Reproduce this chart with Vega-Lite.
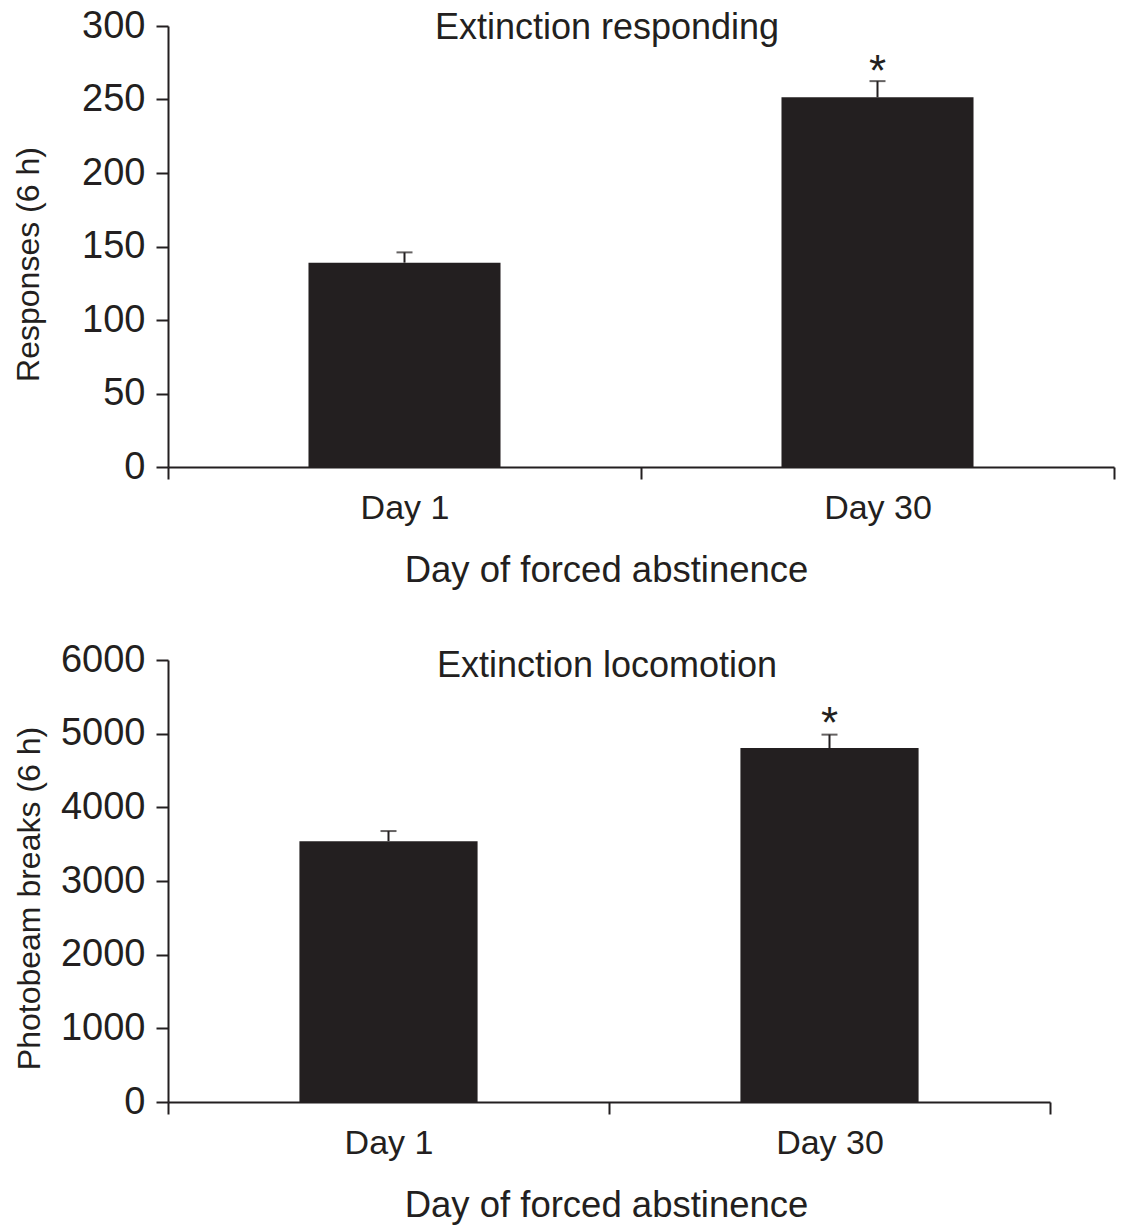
{
  "$schema": "https://vega.github.io/schema/vega-lite/v6.json",
  "padding": {"left": 12, "top": 7, "right": 4, "bottom": 2},
  "background": "white",
  "spacing": 52,
  "config": {
    "view": {"stroke": null},
    "font": "Liberation Sans",
    "title": {"fontSize": 36, "fontWeight": "normal", "color": "#231f20", "font": "Liberation Sans"},
    "axis": {
      "grid": false,
      "domainColor": "#231f20",
      "domainWidth": 2,
      "tickColor": "#231f20",
      "tickWidth": 2,
      "tickSize": 12,
      "labelColor": "#231f20",
      "titleColor": "#231f20",
      "titleFontWeight": "normal",
      "labelFont": "Liberation Sans",
      "titleFont": "Liberation Sans"
    },
    "axisX": {"labelFontSize": 34, "labelAngle": 0, "tickBand": "extent", "labelPadding": 12, "titleFontSize": 36.5, "titlePadding": 27},
    "axisY": {"labelFontSize": 38, "labelPadding": 11, "titleFontSize": 32, "format": "d", "titleY": 238}
  },
  "vconcat": [
    {
      "width": 946,
      "height": 441,
      "title": {"text": "Extinction responding", "offset": -40, "dx": -34, "anchor": "middle"},
      "data": {"values": [
        {"day": "Day 1", "mean": 139, "upper": 146, "sig": ""},
        {"day": "Day 30", "mean": 251.5, "upper": 262.5, "sig": "*"}
      ]},
      "encoding": {
        "x": {"field": "day", "type": "nominal", "sort": null,
              "scale": {"paddingInner": 0, "paddingOuter": 0},
              "axis": {"title": "Day of forced abstinence", "titleX": 438}}
      },
      "layer": [
        {"mark": {"type": "bar", "color": "#231f20", "width": {"band": 0.406}},
         "encoding": {"y": {"field": "mean", "type": "quantitative", "title": "Responses (6 h)",
           "scale": {"domain": [0, 300]},
           "axis": {"values": [0, 50, 100, 150, 200, 250, 300], "titlePadding": 36}}}},
        {"mark": {"type": "rule", "strokeWidth": 2, "color": "#231f20"},
         "encoding": {"y": {"field": "mean", "type": "quantitative", "title": "Responses (6 h)"}, "y2": {"field": "upper"}}},
        {"mark": {"type": "tick", "thickness": 2, "size": 16, "color": "#231f20"},
         "encoding": {"y": {"field": "upper", "type": "quantitative", "title": "Responses (6 h)"}}},
        {"mark": {"type": "text", "fontSize": 44, "baseline": "alphabetic", "dy": 5, "color": "#231f20"},
         "encoding": {"y": {"field": "upper", "type": "quantitative", "title": "Responses (6 h)"}, "text": {"field": "sig"}}}
      ]
    },
    {
      "width": 882,
      "height": 442,
      "title": {"text": "Extinction locomotion", "offset": -44, "dx": -2, "anchor": "middle"},
      "data": {"values": [
        {"day": "Day 1", "mean": 3541, "upper": 3678, "sig": ""},
        {"day": "Day 30", "mean": 4804, "upper": 4987, "sig": "*"}
      ]},
      "encoding": {
        "x": {"field": "day", "type": "nominal", "sort": null,
              "scale": {"paddingInner": 0, "paddingOuter": 0},
              "axis": {"title": "Day of forced abstinence", "titleX": 438}}
      },
      "layer": [
        {"mark": {"type": "bar", "color": "#231f20", "width": {"band": 0.404}},
         "encoding": {"y": {"field": "mean", "type": "quantitative", "title": "Photobeam breaks (6 h)",
           "scale": {"domain": [0, 6000]},
           "axis": {"values": [0, 1000, 2000, 3000, 4000, 5000, 6000], "titlePadding": 14}}}},
        {"mark": {"type": "rule", "strokeWidth": 2, "color": "#231f20"},
         "encoding": {"y": {"field": "mean", "type": "quantitative", "title": "Photobeam breaks (6 h)"}, "y2": {"field": "upper"}}},
        {"mark": {"type": "tick", "thickness": 2, "size": 16, "color": "#231f20"},
         "encoding": {"y": {"field": "upper", "type": "quantitative", "title": "Photobeam breaks (6 h)"}}},
        {"mark": {"type": "text", "fontSize": 44, "baseline": "alphabetic", "dy": 3, "color": "#231f20"},
         "encoding": {"y": {"field": "upper", "type": "quantitative", "title": "Photobeam breaks (6 h)"}, "text": {"field": "sig"}}}
      ]
    }
  ]
}
